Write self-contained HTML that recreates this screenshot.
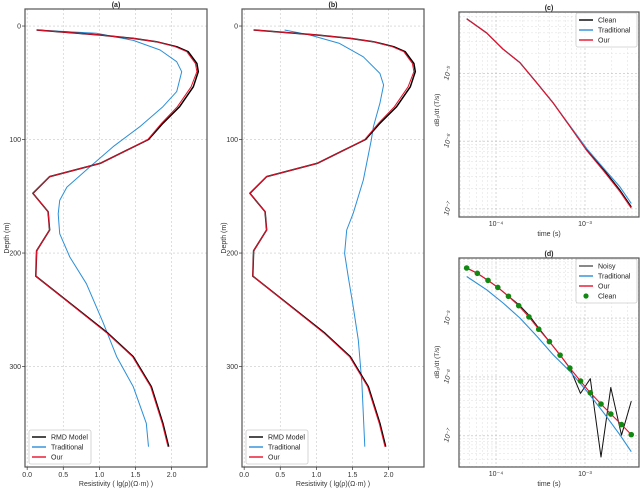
<!DOCTYPE html>
<html><head><meta charset="utf-8">
<style>
body{margin:0;background:#fff;font-family:"Liberation Sans","DejaVu Sans",sans-serif;}
svg text{font-family:"Liberation Sans","DejaVu Sans",sans-serif;}
</style></head>
<body>
<svg id="fig" width="640" height="488" viewBox="0 0 640 488" xmlns="http://www.w3.org/2000/svg"></svg>
<script>
// ---- Panel (a)/(b) data: resistivity (lg) vs depth (m) ----
const rmdDepth = [3.5,7.9,10.9,13.8,18.2,22.6,32.9,40.2,53.5,71.1,85.7,100,109.4,121,132.7,147.4,163.6,179.7,198,220.3,270.8,291.3,317.8,350,370.6];
const rmdRes   = [0.13,1.01,1.47,1.79,2.07,2.23,2.35,2.37,2.30,2.11,1.88,1.68,1.38,1.01,0.31,0.08,0.29,0.31,0.13,0.12,1.12,1.47,1.72,1.88,1.96];
const ourRes   = [0.13,1.01,1.47,1.79,2.05,2.21,2.33,2.35,2.27,2.08,1.86,1.67,1.38,1.01,0.31,0.08,0.29,0.31,0.13,0.12,1.11,1.46,1.71,1.87,1.95];
const tradADepth = [3.5,6.4,12.7,21.1,31.4,40.2,57.8,71.1,88.7,106.3,124,141.9,153.6,165.4,183,203.5,227,261,291.3,317.8,350,370.6];
const tradARes   = [0.13,0.96,1.47,1.84,2.07,2.14,2.07,1.88,1.56,1.19,0.87,0.55,0.45,0.43,0.45,0.59,0.82,1.05,1.24,1.47,1.65,1.68];
const tradBDepth = [3.5,7.9,15.3,27.1,41.7,52,68.1,88.7,100.4,135.7,165,179.7,200.3,220.8,247.2,276.6,314.8,370.6];
const tradBRes   = [0.56,0.91,1.32,1.65,1.88,1.93,1.88,1.79,1.76,1.65,1.51,1.42,1.39,1.44,1.51,1.58,1.63,1.67];
const resTicks = [0,0.5,1,1.5,2];
const resTickLabels = ["0.0","0.5","1.0","1.5","2.0"];
const depthTicks = [0,100,200,300];
// ---- Panel (c) data: log10 time, log10 dBz/dt ----
const cLogT = [-4.33,-4.105,-3.92,-3.73,-3.54,-3.36,-3.17,-2.98,-2.79,-2.61,-2.48];
const cClean = [-4.19,-4.40,-4.64,-4.84,-5.14,-5.43,-5.78,-6.13,-6.42,-6.72,-6.97];
const cTrad  = [-4.19,-4.40,-4.64,-4.84,-5.14,-5.43,-5.77,-6.11,-6.40,-6.67,-6.92];
const cOur   = [-4.19,-4.40,-4.64,-4.84,-5.14,-5.43,-5.78,-6.14,-6.44,-6.74,-6.99];
// ---- Panel (d) data ----
const dLogT  = [-4.33,-4.21,-4.09,-3.98,-3.86,-3.745,-3.63,-3.52,-3.40,-3.28,-3.17,-3.05,-2.94,-2.82,-2.71,-2.59,-2.48];
const dClean = [-4.15,-4.24,-4.36,-4.48,-4.63,-4.79,-4.98,-5.19,-5.40,-5.63,-5.85,-6.07,-6.27,-6.46,-6.63,-6.81,-6.98];
const dNoisy = [-4.15,-4.24,-4.36,-4.48,-4.63,-4.77,-4.95,-5.17,-5.40,-5.63,-5.85,-6.28,-6.03,-7.36,-6.18,-6.99,-6.41];
const dTradT = [-4.33,-4.105,-3.92,-3.73,-3.54,-3.36,-3.17,-2.98,-2.79,-2.61,-2.48];
const dTrad  = [-4.295,-4.52,-4.745,-5.0,-5.31,-5.62,-5.905,-6.24,-6.61,-6.98,-7.27];
const logTTicks = [-4,-3];
const logTTickLabels = ["10⁻⁴","10⁻³"];
const logYTicks = [-5,-6,-7];
const logYTickLabels = ["10⁻⁵","10⁻⁶","10⁻⁷"];

const NS="http://www.w3.org/2000/svg";
const fig=document.getElementById('fig');
function mk(tag,attrs,parent){const e=document.createElementNS(NS,tag);for(const k in attrs)e.setAttribute(k,attrs[k]);(parent||fig).appendChild(e);return e;}
function txt(s,attrs,parent){const e=mk('text',attrs,parent);e.textContent=s;return e;}
function scale(d0,d1,r0,r1){return v=>r0+(v-d0)/(d1-d0)*(r1-r0);}

function panel(name,box,xd,yd,title){
  const g=mk('g',{});
  
  
  const sx=scale(xd[0],xd[1],box.x,box.x+box.w), sy=scale(yd[0],yd[1],box.y,box.y+box.h);
  const t=txt(title,{x:box.x+box.w/2,y:box.y-2,'font-size':7,'font-weight':'bold','text-anchor':'middle',fill:'#222'},g);
  
  
  return {g,sx,sy,box};
}
function frame(p){
  const r=mk('rect',{x:p.box.x,y:p.box.y,width:p.box.w,height:p.box.h,fill:'none',stroke:'#555','stroke-width':1.2},p.g);
  
  
}
function grid(p,vx,vy,col,w){
  const gg=mk('g',{stroke:col,'stroke-width':w,'stroke-dasharray':'2,2'},p.g);
  
  
  vx.forEach(v=>mk('line',{x1:p.sx(v),x2:p.sx(v),y1:p.box.y,y2:p.box.y+p.box.h},gg));
  vy.forEach(v=>mk('line',{y1:p.sy(v),y2:p.sy(v),x1:p.box.x,x2:p.box.x+p.box.w},gg));
}
function line(p,xs,ys,col,w,name){
  const pts=xs.map((x,i)=>p.sx(x).toFixed(1)+','+p.sy(ys[i]).toFixed(1)).join(' ');
  const l=mk('polyline',{points:pts,fill:'none',stroke:col,'stroke-width':w,'stroke-linejoin':'round'},p.g);
  
  
}
function legend(p,x,y,w,items){
  const lg=mk('g',{},p.g);
  
  
  mk('rect',{x:x,y:y,width:w,height:items.length*10+4,fill:'#fff','fill-opacity':0.85,stroke:'#ccc','stroke-width':0.8,rx:2},lg);
  items.forEach((it,i)=>{
    const cy=y+7+i*10;
    const e=mk('g',{},lg);
    
    
    if(it.dot) mk('circle',{cx:x+10,cy:cy,r:2.6,fill:it.c},e);
    else mk('line',{x1:x+3,x2:x+17,y1:cy,y2:cy,stroke:it.c,'stroke-width':1.4},e);
    txt(it.t,{x:x+22,y:cy+2.5,'font-size':7,fill:'#222'},e);
  });
}

function depthPanel(name,x0,title,tradD,tradR){
  const p=panel(name,{x:x0,y:9,w:182,h:458},[-0.03,2.49],[-15,388.5],title);
  grid(p,resTicks,depthTicks,'#c8c8c8',0.6);
  line(p,tradR,tradD,'#2b8fd8',1,'traditional-line');
  line(p,rmdRes,rmdDepth,'#000',1.5,'rmd-model-line');
  line(p,ourRes,rmdDepth,'#e8102a',1,'our-line');
  frame(p);
  resTicks.forEach((v,i)=>{
    mk('line',{x1:p.sx(v),x2:p.sx(v),y1:467,y2:470,stroke:'#333','stroke-width':0.7},p.g);
    const t=txt(resTickLabels[i],{x:p.sx(v),y:477,'font-size':7,'text-anchor':'middle',fill:'#333'},p.g);
    
    
  });
  depthTicks.forEach(v=>{
    mk('line',{x1:x0-3,x2:x0,y1:p.sy(v),y2:p.sy(v),stroke:'#333','stroke-width':0.7},p.g);
    const t=txt(String(v),{x:x0-4,y:p.sy(v)+2.5,'font-size':7,'text-anchor':'end',fill:'#333'},p.g);
    
    
  });
  const xt=txt('Resistivity ( lg(ρ)(Ω·m) )',{x:x0+91,y:486,'font-size':7,'text-anchor':'middle',fill:'#333'},p.g);
  
  
  const yt=txt('Depth (m)',{x:0,y:0,'font-size':7,'text-anchor':'middle',fill:'#333',transform:`translate(${x0-16},238) rotate(-90)`},p.g);
  
  
  legend(p,x0+4,430,62,[{t:'RMD Model',c:'#000'},{t:'Traditional',c:'#2b8fd8'},{t:'Our',c:'#e8102a'}]);
}
depthPanel('panel-a',25,'(a)',tradADepth,tradARes);
depthPanel('panel-b',242,'(b)',tradBDepth,tradBRes);

function logPanel(name,box,yd,title){
  const p=panel(name,box,[-4.416,-2.393],yd,title);
  const minX=[],majX=[],minY=[],majY=[];
  for(let d=-5;d<=-3;d++)for(let k=1;k<10;k++){const v=d+Math.log10(k);if(v>-4.416&&v<-2.393)(k==1?majX:minX).push(v);}
  for(let d=-8;d<=-4;d++)for(let k=1;k<10;k++){const v=d+Math.log10(k);if(v>yd[1]&&v<yd[0])(k==1?majY:minY).push(v);}
  grid(p,minX,minY,'#dedede',0.5);
  grid(p,majX,majY,'#bdbdbd',0.6);
  return p;
}
function logAxes(p,ylbY){
  frame(p);
  logTTicks.forEach((v,i)=>{
    const t=txt(logTTickLabels[i],{x:p.sx(v),y:p.box.y+p.box.h+9,'font-size':7,'text-anchor':'middle',fill:'#333'},p.g);
    
    
  });
  logYTicks.forEach((v,i)=>{
    const y=p.sy(v);
    const t=txt(logYTickLabels[i],{x:0,y:0,'font-size':7,'font-style':'italic','text-anchor':'middle',fill:'#333',transform:`translate(${p.box.x-9},${y}) rotate(-75)`},p.g);
    
    
  });
  const xt=txt('time (s)',{x:p.box.x+p.box.w/2,y:p.box.y+p.box.h+19,'font-size':7,'text-anchor':'middle',fill:'#333'},p.g);
  
  
  const yt=txt('dB₂/dt (T/s)',{x:0,y:0,'font-size':6.5,'text-anchor':'middle',fill:'#333',transform:`translate(${p.box.x-20},${ylbY}) rotate(-90)`},p.g);
  
  
}
const pc=logPanel('panel-c',{x:459,y:12,w:180,h:205},[-4.09,-7.12],'(c)');
line(pc,cLogT,cClean,'#000',1.2,'clean-line');
line(pc,cLogT,cTrad,'#2b8fd8',1.1,'traditional-line');
line(pc,cLogT,cOur,'#e8102a',1.1,'our-line');
logAxes(pc,110);
legend(pc,576,13,61,[{t:'Clean',c:'#000'},{t:'Traditional',c:'#2b8fd8'},{t:'Our',c:'#e8102a'}]);

const pd=logPanel('panel-d',{x:459,y:258,w:180,h:209},[-3.98,-7.53],'(d)');
line(pd,dLogT,dNoisy,'#111',1,'noisy-line');
line(pd,dTradT,dTrad,'#2b8fd8',1.1,'traditional-line');
line(pd,dLogT,dClean,'#e8102a',1.1,'our-line');
dLogT.forEach((v,i)=>{
  const c=mk('circle',{cx:pd.sx(v),cy:pd.sy(dClean[i]),r:2.8,fill:'#118811'},pd.g);
  
  
});
logAxes(pd,362);
legend(pd,576,259,61,[{t:'Noisy',c:'#555'},{t:'Traditional',c:'#2b8fd8'},{t:'Our',c:'#e8102a'},{t:'Clean',c:'#118811',dot:true}]);
</script>
</body></html>
